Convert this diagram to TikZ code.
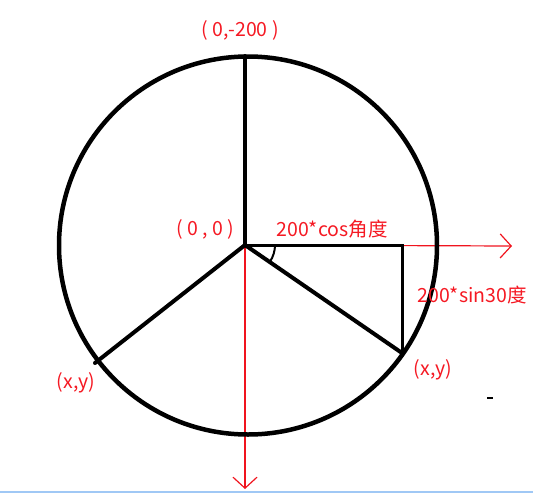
\documentclass[tikz,border=0pt]{standalone}
\usepackage{fontspec}
\setmainfont{Noto Sans CJK SC}
\usetikzlibrary{arrows.meta}
\definecolor{lbl}{RGB}{245,25,35}
\definecolor{axisred}{RGB}{240,20,30}
\definecolor{edgeblue}{RGB}{160,200,245}
\tikzset{
  thick black/.style={line width=4pt, line cap=round, black},
  redline/.style={line width=1.2pt, axisred},
  redarrow/.style={redline, -{Straight Barb[length=11pt,width=24pt,line width=1.2pt]}},
  lab/.style={text=lbl, font=\fontsize{19.5}{22}\selectfont, inner sep=0pt},
}
\begin{document}
\begin{tikzpicture}[x=1pt,y=-1pt]
\useasboundingbox (0,0) rectangle (533,493);
% points
\coordinate (O) at (245,245);
\coordinate (T) at (245,56);
\coordinate (B) at (402,353);
\coordinate (C) at (95,363);
\coordinate (D) at (402,245);
\coordinate (XE) at (512,246);
\coordinate (YE) at (245,489);
% axes (drawn first, under the black lines)
\draw[redarrow] (O) -- (XE);
\draw[redarrow] (O) -- (YE);
% circle
\draw[line width=4.5pt] (248,245.5) circle[radius=189];
% spokes
\draw[thick black] (O) -- (T);
\draw[thick black] (O) -- (B);
\draw[thick black] (O) -- (C);
\draw[line width=3pt] (O) -- (D) -- (B);
% angle arc
\draw[line width=2pt] ([xshift=30pt]O) arc[start angle=0, end angle=34.6, radius=30];
% labels
\node[lab] (ltop) at (240,30) {( 0,-200 )};
\node[lab] (lorig) at (205,229) {( 0 , 0 )};
\node[lab] (lcos) at (332,229) {200*cos角度};
\node[lab] (lsin) at (472,295) {200*sin30度};
\node[lab] (lxy1) at (433,370) {(x,y)};
\node[lab] (lxy2) at (76,383) {(x,y)};
% small dash
\node[fill=black, minimum width=6pt, minimum height=2pt, inner sep=0pt] (dash) at (490,398) {};
% bottom edge line
\draw[edgeblue, line width=2pt] (0,492) -- (533,492);
\end{tikzpicture}
\end{document}
